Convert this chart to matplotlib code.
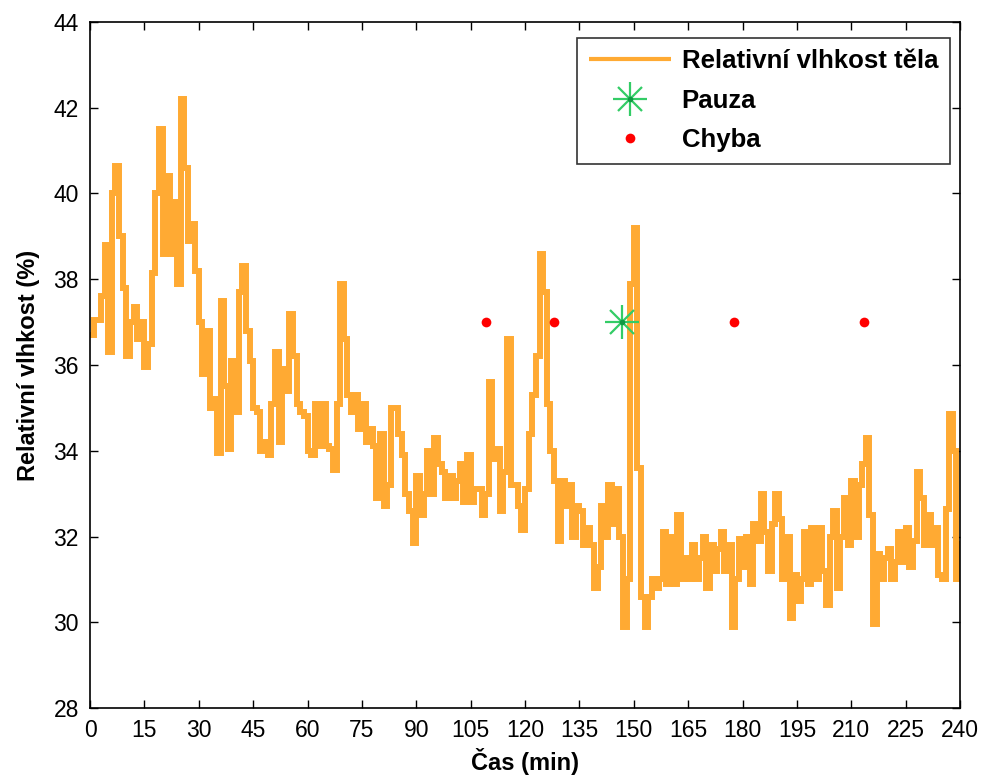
import numpy as np
import matplotlib
matplotlib.use("Agg")
import matplotlib.pyplot as plt
from matplotlib import font_manager

humidity = [
    36.7, 37.05, 37.05, 37.6, 38.8, 36.3, 40.0, 40.65, 39.0, 37.8,
    36.2, 37.0, 37.35, 36.6, 37.0, 35.95, 36.5, 38.15, 40.0, 41.5,
    38.6, 40.4, 38.6, 39.8, 37.9, 42.2, 40.6, 38.9, 39.3, 38.2,
    37.0, 35.8, 36.8, 35.0, 35.2, 33.95, 37.5, 35.5, 34.05, 36.1,
    34.9, 37.7, 38.3, 36.8, 36.1, 35.0, 34.9, 34.0, 34.2, 33.9,
    35.1, 36.3, 34.2, 35.9, 35.4, 37.2, 36.2, 35.1, 34.9, 34.8,
    34.0, 33.9, 35.1, 34.1, 35.1, 34.1, 34.05, 33.55, 35.1, 37.9,
    36.6, 35.3, 34.9, 35.3, 34.5, 35.1, 34.2, 34.5, 34.1, 32.9,
    34.4, 32.7, 33.2, 35.0, 35.0, 34.4, 33.9, 33.0, 32.6, 31.85,
    33.4, 32.5, 33.0, 34.0, 33.0, 34.3, 33.7, 33.5, 32.9, 33.4,
    32.9, 33.3, 33.7, 32.8, 33.9, 32.8, 33.1, 33.1, 32.5, 33.0,
    35.6, 33.8, 34.05, 32.6, 33.5, 36.6, 33.2, 33.2, 32.7, 32.15,
    33.1, 34.4, 35.3, 36.2, 38.6, 37.7, 35.1, 34.0, 33.3, 31.9,
    33.3, 32.7, 33.2, 32.0, 32.7, 32.6, 31.8, 32.2, 31.8, 30.8,
    31.3, 32.7, 32.0, 33.2, 32.3, 33.1, 32.0, 29.9, 31.0, 37.9,
    39.2, 33.6, 30.6, 29.9, 30.6, 31.0, 30.8, 31.0, 32.1, 30.9,
    32.0, 30.9, 32.5, 31.0, 31.5, 31.0, 31.8, 31.0, 31.5, 32.0,
    30.8, 31.8, 31.2, 31.7, 32.1, 31.2, 31.8, 29.9, 31.0, 31.95,
    31.3, 32.0, 30.9, 32.3, 31.9, 33.0, 32.1, 31.2, 32.3, 33.0,
    32.4, 31.0, 32.0, 30.1, 31.1, 30.5, 31.0, 32.1, 30.9, 32.2,
    31.0, 32.2, 31.2, 30.4, 32.0, 32.6, 30.8, 32.0, 32.9, 31.8,
    33.3, 32.0, 33.2, 33.7, 34.3, 32.5, 29.97, 31.6, 31.0, 31.5,
    31.7, 31.0, 31.4, 32.1, 31.4, 32.2, 31.3, 31.9, 33.5, 32.9,
    31.8, 32.5, 31.8, 32.2, 31.1, 31.0, 32.65, 34.85, 34.0, 31.0,
    31.9,
]
minutes = np.arange(len(humidity))

pause_x = [146.8]
pause_y = [37.0]
error_x = [109.2, 128.0, 177.7, 213.5]
error_y = [37.0, 37.0, 37.0, 37.0]

xticks = list(range(0, 241, 15))
yticks = list(range(28, 45, 2))

installed = {f.name for f in font_manager.fontManager.ttflist}
narrow = 'Liberation Sans Narrow' if 'Liberation Sans Narrow' in installed else 'Liberation Sans'
tick_font = [narrow, 'DejaVu Sans']
tick_size = 19 if narrow == 'Liberation Sans Narrow' else 16.5
label_font = ['Liberation Sans', 'DejaVu Sans']

orange = '#FFAA33'
green = '#33CC66'

fig = plt.figure(figsize=(9.82, 7.8), dpi=100)
ax = fig.add_axes([0.0917, 0.0923, 0.8859, 0.8795])

line, = ax.plot(minutes, humidity, color=orange, lw=4.3, drawstyle='steps-post',
                solid_joinstyle='miter', solid_capstyle='butt', zorder=2)
p1, = ax.plot(pause_x, pause_y, ls='none', marker='+', ms=24, mew=1.6, color=green, zorder=3)
p2, = ax.plot(pause_x, pause_y, ls='none', marker='x', ms=17, mew=1.6, color=green, zorder=3)
p3, = ax.plot(pause_x, pause_y, ls='none', marker='o', ms=4, color='#119944', mew=0, zorder=4)
err, = ax.plot(error_x, error_y, ls='none', marker='o', ms=7, color='red', mew=0, zorder=3)

ax.set_xlim(0, 240)
ax.set_ylim(28, 44)
ax.set_xticks(xticks)
ax.set_yticks(yticks)
ax.tick_params(direction='in', length=6, width=1, top=True, right=True)
ax.tick_params(axis='x', pad=8)
ax.tick_params(axis='y', pad=8)
for lab in ax.get_xticklabels() + ax.get_yticklabels():
    lab.set_family(tick_font)
    lab.set_fontsize(tick_size)
for s in ax.spines.values():
    s.set_linewidth(1.2)

ax.set_xlabel('Čas (min)', family=label_font, fontweight='bold', fontsize=17, labelpad=4)
ax.set_ylabel('Relativní vlhkost (%)', family=label_font, fontweight='bold', fontsize=17, labelpad=10)

leg = ax.legend([line, (p1, p2, p3), err], ['Relativní vlhkost těla', 'Pauza', 'Chyba'],
                loc='upper right', bbox_to_anchor=(0.988, 0.977), frameon=True, fancybox=False,
                edgecolor='black', prop={'family': label_font, 'weight': 'bold', 'size': 18.5},
                handlelength=3.2, borderpad=0.45, labelspacing=0.6, handletextpad=0.4,
                borderaxespad=0)
leg.get_frame().set_linewidth(1.2)
for h in leg.get_lines():
    h.set_linewidth(3)

fig.savefig('out.png', dpi=100)
